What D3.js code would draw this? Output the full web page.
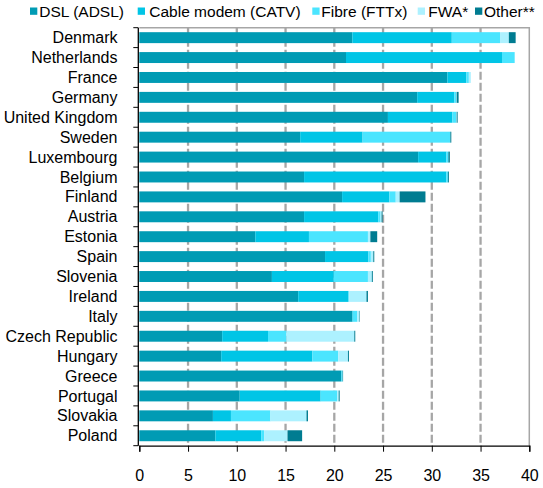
<!DOCTYPE html>
<html>
<head>
<meta charset="utf-8">
<script src="https://cdnjs.cloudflare.com/ajax/libs/d3/7.8.5/d3.min.js"></script>
<style>
  body { margin: 0; background: #fff; }
  text { font-family: "Liberation Sans", Arial, sans-serif; fill: #000; }
</style>
</head>
<body>
<script>
// broadband subscriptions per 100 inhabitants, by technology
var countries = ["Denmark", "Netherlands", "France", "Germany", "United Kingdom", "Sweden",
    "Luxembourg", "Belgium", "Finland", "Austria", "Estonia", "Spain", "Slovenia", "Ireland",
    "Italy", "Czech Republic", "Hungary", "Greece", "Portugal", "Slovakia", "Poland"];

var dsl   = [21.85, 21.2, 31.6, 28.5, 25.5, 16.5, 28.6, 16.9, 20.8, 16.9, 11.9, 19.05, 13.6, 16.3, 21.85, 8.5, 8.4, 20.7, 10.3, 7.55, 7.8];
var cable = [10.2, 16.0, 1.95, 3.8, 6.6, 6.4, 2.9, 14.6, 4.85, 7.6, 5.5, 4.45, 6.35, 5.15, 0.05, 4.7, 9.35, 0.05, 8.3, 1.85, 4.7];
var fibre = [4.95, 1.3, 0.25, 0.2, 0.4, 9.0, 0.2, 0.15, 0.65, 0.25, 6.05, 0.25, 3.5, 0.1, 0.45, 1.9, 2.65, 0.1, 1.7, 4.05, 0.3];
var fwa   = [0.9, 0, 0.2, 0.05, 0.05, 0, 0, 0, 0.4, 0.1, 0.25, 0.25, 0.4, 1.75, 0.2, 6.95, 1.0, 0, 0.15, 3.7, 2.4];
var other = [0.7, 0, 0, 0.2, 0.1, 0.1, 0.15, 0.1, 2.65, 0.1, 0.7, 0.1, 0.1, 0.15, 0.05, 0.1, 0.1, 0.05, 0.1, 0.15, 1.5];

var seriesKeys  = ["dsl", "cable", "fibre", "fwa", "other"];
var seriesNames = ["DSL (ADSL)", "Cable modem (CATV)", "Fibre (FTTx)", "FWA*", "Other**"];
var colors      = ["#009BB4", "#00C5E6", "#4BE5FF", "#ADF1FF", "#007C91"];
var xTicks      = [0, 5, 10, 15, 20, 25, 30, 35, 40];

// legend layout (Excel spaces these unevenly)
var legendBoxX  = [30, 137.7, 312.3, 417.7, 475];
var legendTextX = [39.3, 149.3, 321.3, 428.3, 484];

var width = 543,
    height = 488;

var margin = {top: 27.7, right: 13.7, bottom: 42.3, left: 139.3};

var svg = d3.select("body").append("svg")
    .attr("width", width)
    .attr("height", height);

var table = countries.map(function(c, i) {
    return {country: c, dsl: dsl[i], cable: cable[i], fibre: fibre[i], fwa: fwa[i], other: other[i]};
});

var stacked = d3.stack().keys(seriesKeys)(table);

var x = d3.scaleLinear()
    .domain([0, 40])
    .range([margin.left, width - margin.right]);

var y = d3.scaleBand()
    .domain(countries)
    .range([margin.top, height - margin.bottom])
    .paddingInner(0.45)
    .paddingOuter(0.225);

// gridlines
svg.append("g")
    .selectAll("line")
    .data(xTicks.filter(function(d) { return d > 0 && d < 40; }))
    .enter().append("line")
    .attr("x1", function(d) { return x(d); })
    .attr("x2", function(d) { return x(d); })
    .attr("y1", margin.top)
    .attr("y2", height - margin.bottom)
    .attr("stroke", "#A6A6A6")
    .attr("stroke-width", 2.3)
    .attr("stroke-dasharray", "8,3");

// plot border, top and right
svg.append("path")
    .attr("d", "M" + x(0) + "," + margin.top + "H" + x(40) + "V" + (height - margin.bottom))
    .attr("fill", "none")
    .attr("stroke", "#A6A6A6")
    .attr("stroke-width", 1.5);

// bars
svg.append("g")
    .selectAll("g")
    .data(stacked)
    .enter().append("g")
    .attr("fill", function(d, i) { return colors[i]; })
    .selectAll("rect")
    .data(function(d) { return d; })
    .enter().append("rect")
    .attr("x", function(d) { return x(d[0]); })
    .attr("width", function(d) { return Math.max(0, x(d[1]) - x(d[0])); })
    .attr("y", function(d) { return y(d.data.country); })
    .attr("height", y.bandwidth());

// x axis
var xAxis = d3.axisBottom(x)
    .tickValues(xTicks)
    .tickSize(6)
    .tickPadding(18)
    .tickFormat(d3.format("d"));

var gx = svg.append("g")
    .attr("transform", "translate(0," + (height - margin.bottom) + ")")
    .call(xAxis);
gx.select(".domain").attr("stroke", "#000").attr("stroke-width", 1.3);
gx.selectAll(".tick line").attr("stroke", "#000");
gx.selectAll("text").style("font-size", "16px").attr("fill", "#000");

// y axis: line with ticks at band boundaries
var step = y.step();
var y0 = margin.top;
var gy = svg.append("g");
gy.append("line")
    .attr("x1", x(0) - 1).attr("x2", x(0) - 1)
    .attr("y1", margin.top).attr("y2", height - margin.bottom)
    .attr("stroke", "#000")
    .attr("stroke-width", 1.3);
gy.selectAll(".ytick")
    .data(d3.range(countries.length + 1))
    .enter().append("line")
    .attr("class", "ytick")
    .attr("x1", x(0) - 6).attr("x2", x(0) - 1)
    .attr("y1", function(i) { return y0 + i * step; })
    .attr("y2", function(i) { return y0 + i * step; })
    .attr("stroke", "#000");

gy.selectAll(".label")
    .data(countries)
    .enter().append("text")
    .attr("class", "label")
    .attr("x", 117.5)
    .attr("y", function(d) { return y(d) + y.bandwidth() / 2; })
    .attr("dy", "0.35em")
    .attr("text-anchor", "end")
    .style("font-size", "16px")
    .text(function(d) { return d; });

// legend
var legend = svg.append("g");
legend.selectAll("rect")
    .data(seriesNames)
    .enter().append("rect")
    .attr("x", function(d, i) { return legendBoxX[i]; })
    .attr("y", 7.5)
    .attr("width", 7.3)
    .attr("height", 7.3)
    .attr("fill", function(d, i) { return colors[i]; });
legend.selectAll("text")
    .data(seriesNames)
    .enter().append("text")
    .attr("x", function(d, i) { return legendTextX[i]; })
    .attr("y", 17.3)
    .style("font-size", "15.5px")
    .text(function(d) { return d; });
</script>
</body>
</html>
